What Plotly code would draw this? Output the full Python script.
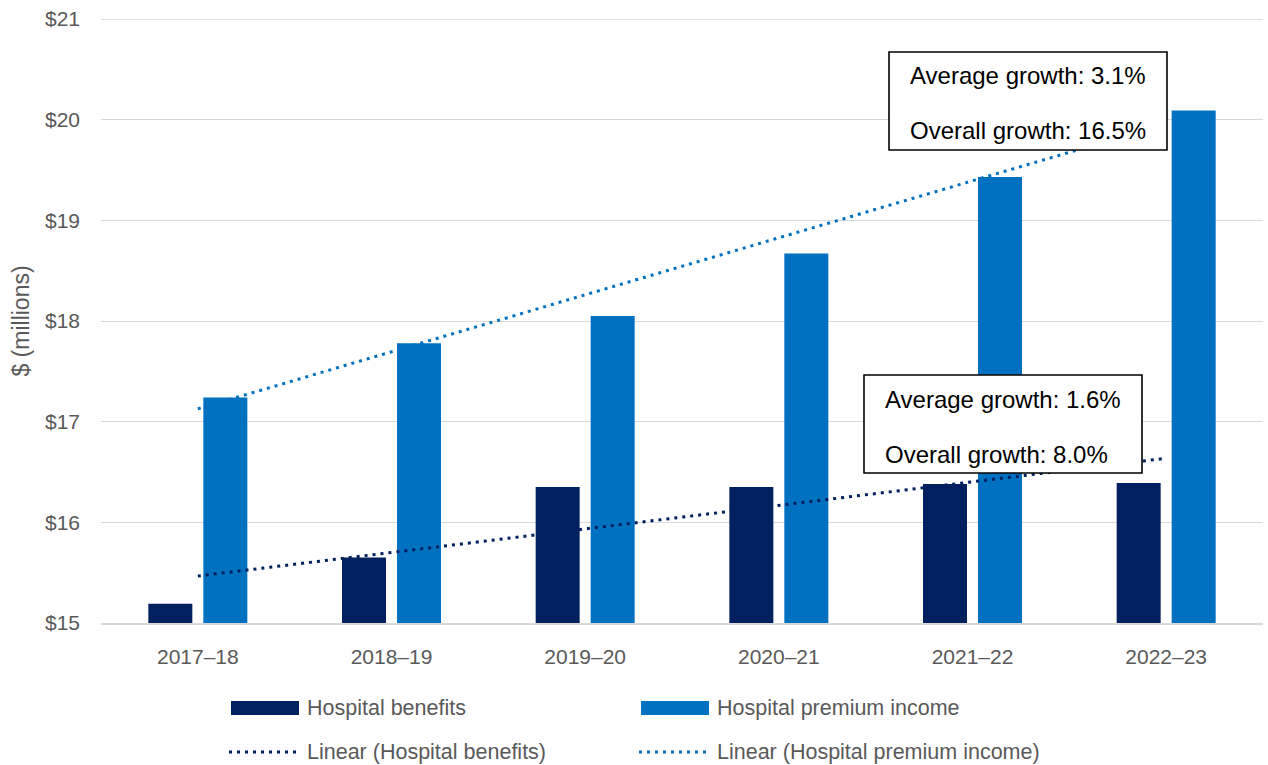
import numpy as np
import plotly.graph_objects as go

# Financial years and series values ($ millions)
years = ["2017–18", "2018–19", "2019–20", "2020–21", "2021–22", "2022–23"]
hospital_benefits = [15.19, 15.65, 16.35, 16.35, 16.38, 16.39]
hospital_premium_income = [17.24, 17.78, 18.05, 18.67, 19.43, 20.09]

benefits_notes = ["Average growth: 1.6%", "Overall growth: 8.0%"]
premium_notes = ["Average growth: 3.1%", "Overall growth: 16.5%"]

y_ticks = [15, 16, 17, 18, 19, 20, 21]

NAVY = "#002060"
BLUE = "#0070C0"
GREY_TEXT = "#595959"
GRID = "#D9D9D9"
FONT = "Liberation Sans, Arial, sans-serif"

W, H = 1268, 765
ML, MR, MT, MB = 101, 5, 19, 142
PW, PH = W - ML - MR, H - MT - MB


def xp(px):
    return (px - ML) / PW


def yp(py):
    return (H - MB - py) / PH


def linear_trend(values):
    idx = np.arange(len(values))
    slope, intercept = np.polyfit(idx, values, 1)
    return list(intercept + slope * idx)


fig = go.Figure()
fig.add_trace(go.Bar(x=years, y=hospital_benefits, name="Hospital benefits",
                     marker=dict(color=NAVY, line=dict(width=0))))
fig.add_trace(go.Bar(x=years, y=hospital_premium_income, name="Hospital premium income",
                     marker=dict(color=BLUE, line=dict(width=0))))
fig.add_trace(go.Scatter(x=years, y=linear_trend(hospital_benefits), mode="lines",
                         name="Linear (Hospital benefits)",
                         line=dict(color=NAVY, width=3, dash="3px,5px")))
fig.add_trace(go.Scatter(x=years, y=linear_trend(hospital_premium_income), mode="lines",
                         name="Linear (Hospital premium income)",
                         line=dict(color=BLUE, width=3, dash="3px,5px")))

# top gridline at the upper end of the range
shapes = [dict(type="line", xref="paper", yref="y", x0=0, x1=1, y0=y_ticks[-1], y1=y_ticks[-1],
               line=dict(color=GRID, width=1.3), layer="below")]
annotations = []


def note_box(x0, y0, x1, y1, lines, ys, text_x):
    shapes.append(dict(type="rect", xref="paper", yref="paper",
                       x0=xp(x0), x1=xp(x1), y0=yp(y1), y1=yp(y0),
                       fillcolor="white", line=dict(color="black", width=1.6),
                       layer="above"))
    for txt, ty in zip(lines, ys):
        annotations.append(dict(text=txt, xref="paper", yref="paper",
                                x=xp(text_x), y=yp(ty), xanchor="left", yanchor="middle",
                                showarrow=False, font=dict(family=FONT, size=24, color="black")))


note_box(889, 52, 1167, 150, premium_notes, [75, 130], 908)
note_box(864, 375, 1142, 473, benefits_notes, [399, 454], 883)

# Legend drawn below the plot in two columns
legend_rows = [
    ("Hospital benefits", NAVY, "bar", 231, 708),
    ("Hospital premium income", BLUE, "bar", 641, 708),
    ("Linear (Hospital benefits)", NAVY, "dot", 231, 752),
    ("Linear (Hospital premium income)", BLUE, "dot", 641, 752),
]
for label, color, kind, sx, sy in legend_rows:
    if kind == "bar":
        shapes.append(dict(type="rect", xref="paper", yref="paper",
                           x0=xp(sx), x1=xp(sx + 68), y0=yp(sy + 7), y1=yp(sy - 7),
                           fillcolor=color, line=dict(width=0)))
    else:
        shapes.append(dict(type="line", xref="paper", yref="paper",
                           x0=xp(sx - 2), x1=xp(sx + 70), y0=yp(sy), y1=yp(sy),
                           line=dict(color=color, width=3, dash="3px,5px")))
    annotations.append(dict(text=label, xref="paper", yref="paper",
                            x=xp(sx + 74), y=yp(sy), xanchor="left", yanchor="middle",
                            showarrow=False, font=dict(family=FONT, size=21.5, color=GREY_TEXT)))

fig.update_layout(
    width=W, height=H,
    margin=dict(l=ML, r=MR, t=MT, b=MB),
    paper_bgcolor="white", plot_bgcolor="white",
    barmode="group", bargap=0.432, bargroupgap=0.2,
    showlegend=False,
    font=dict(family=FONT, color=GREY_TEXT),
    shapes=shapes, annotations=annotations,
    xaxis=dict(type="category", showgrid=False, showline=True, linecolor=GRID, linewidth=1.5,
               ticks="", tickfont=dict(size=21, color=GREY_TEXT), ticklabelstandoff=14),
    yaxis=dict(range=[15, 21], tickvals=y_ticks, ticktext=[f"${v}" for v in y_ticks],
               showgrid=True, gridcolor=GRID, gridwidth=1.3, zeroline=False, showline=False,
               ticks="", tickfont=dict(size=21, color=GREY_TEXT), ticklabelstandoff=20,
               title=dict(text="$ (millions)", font=dict(size=23, color=GREY_TEXT), standoff=8)),
)

fig.write_html("out.html")
